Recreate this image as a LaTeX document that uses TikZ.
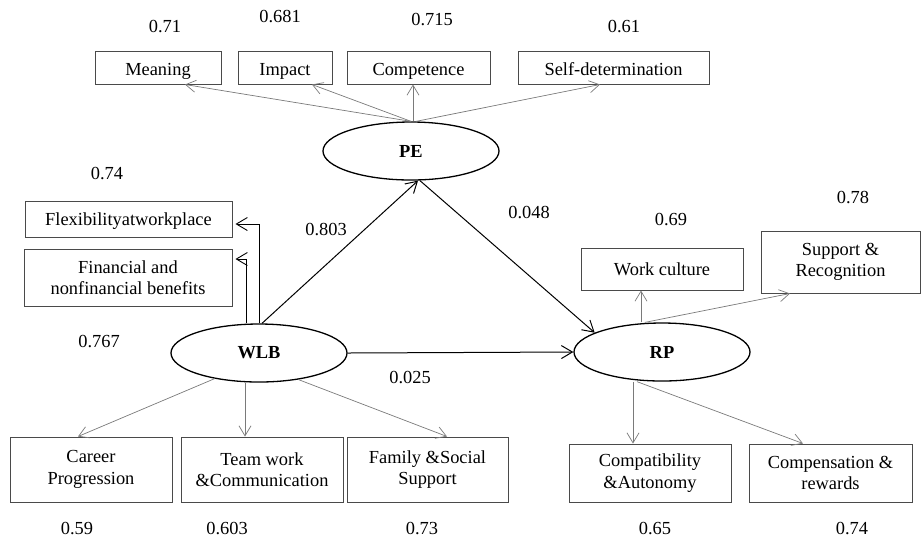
\documentclass[tikz,border=0pt]{standalone}
\usepackage{fontspec}
\setmainfont{Liberation Serif}
\usepackage{xcolor}
\usetikzlibrary{shapes.geometric, arrows.meta, positioning, calc}
\definecolor{boxgray}{HTML}{4A4A4A}
\definecolor{linegray}{HTML}{7A7A7A}
\tikzstyle{effect} = [line width=0.5pt, black, ->, >={Straight Barb[length=5.5pt,width=6.5pt]}]
\tikzstyle{loading} = [line width=0.35pt, linegray, ->, >={Straight Barb[length=5pt,width=6pt]}]

\begin{document}
\begin{tikzpicture}[
    x=0.5pt, y=-0.5pt,
    font=\fontsize{9.2}{10.8}\selectfont,
    indicator/.style={rectangle, draw=boxgray, line width=0.5pt, inner sep=0pt, align=center},
    oneline/.style={text height=8pt, text depth=0.5pt},
    construct/.style={ellipse, draw, line width=0.65pt, inner sep=0pt, minimum width=88pt, minimum height=29pt, font=\fontsize{9.2}{10.8}\selectfont\bfseries},
    value/.style={inner sep=0pt}
]
    \useasboundingbox (0,0) rectangle (921,538);

    \node[construct] (PE) at (411,151) {PE};
    \node[construct] (WLB) at (259,353) {WLB};
    \node[construct] (RP) at (662,352) {RP};

    \node[indicator, oneline, minimum width=63pt, minimum height=16.5pt] (meaning) at (158,67.5) {Meaning};
    \node[indicator, oneline, minimum width=47pt, minimum height=16.5pt] (impact) at (285,67.5) {Impact};
    \node[indicator, oneline, minimum width=71.5pt, minimum height=16.5pt] (competence) at (418.5,67.5) {Competence};
    \node[indicator, oneline, minimum width=95.5pt, minimum height=16.5pt] (selfdet) at (613.5,67.5) {Self-determination};
    \node[indicator, oneline, text height=7pt, minimum width=103.5pt, minimum height=18pt] (flexibility) at (128.5,219) {Flexibilityatworkplace};
    \node[indicator, minimum width=104pt, minimum height=28.5pt] (benefits) at (128,277.5) {Financial and\\nonfinancial benefits};
    \node[indicator, minimum width=81pt, minimum height=21pt] (culture) at (662,269) {Work culture};
    \node[indicator, minimum width=79.5pt, minimum height=31pt] (support) at (840.5,262) {Support \&\\Recognition};
    \node[indicator, minimum width=81pt, minimum height=32.5pt] (career) at (91,469.5) {Career\\Progression};
    \node[indicator, minimum width=81pt, minimum height=32.5pt] (teamwork) at (262,469.5) {Team work\\\&Communication};
    \node[indicator, minimum width=80.5pt, minimum height=32.5pt] (family) at (427.5,469.5) {Family \&Social\\Support};
    \node[indicator, minimum width=81pt, minimum height=29pt] (autonomy) at (650,473) {Compatibility\\\&Autonomy};
    \node[indicator, minimum width=81.5pt, minimum height=29pt] (rewards) at (830.5,473) {Compensation \&\\rewards};

    % loadings
    \node[value] (v71) at (165,27) {0.71};
    \node[value] (v681) at (280,17) {0.681};
    \node[value] (v715) at (432,20) {0.715};
    \node[value] (v61) at (624,27) {0.61};
    \node[value] (v74a) at (107,173) {0.74};
    \node[value] (v767) at (99,341) {0.767};
    \node[value] (v69) at (671,219) {0.69};
    \node[value] (v78) at (853,198) {0.78};
    \node[value] (v59) at (77,528) {0.59};
    \node[value] (v603) at (227,528) {0.603};
    \node[value] (v73) at (422,528) {0.73};
    \node[value] (v65) at (655,528) {0.65};
    \node[value] (v74b) at (852,528) {0.74};

    % path coefficients
    \node[value] (v803) at (326,229) {0.803};
    \node[value] (v048) at (529,213) {0.048};
    \node[value] (v025) at (410,377) {0.025};

    \draw[loading] (PE.north) -- ([xshift=13.5pt]meaning.south);
    \draw[loading] (PE.north) -- ([xshift=13.5pt]impact.south);
    \draw[loading] ([xshift=1pt]PE.north) -- ([xshift=1pt]PE.north |- competence.south);
    \draw[loading] ([xshift=2.5pt]PE.north) -- ([xshift=-6.75pt]selfdet.south);

    \draw[effect, line width=0.45pt, shorten >=1.5pt] (WLB.north) |- ([yshift=-2.5pt]flexibility.east);
    \draw[effect, line width=0.45pt, shorten >=1.5pt] ([xshift=-6.5pt]WLB.north) |- ([yshift=9.25pt]benefits.east);

    \draw[effect] ([xshift=1.5pt]WLB.north) -- ([xshift=3.5pt]PE.south);
    \draw[effect] ([xshift=4.5pt]PE.south) -- (RP.164);
    \draw[effect] (WLB.east) -- (RP.west);

    \draw[loading] ([xshift=-10.5pt]RP.north) -- ([xshift=-10.5pt]RP.north |- culture.south);
    \draw[loading] ([xshift=-8.5pt]RP.north) -- ([xshift=-25.25pt]support.south);
    \draw[loading] (WLB.210) -- ([xshift=-6.5pt]career.north);
    \draw[loading] ([xshift=-7pt]WLB.south) -- ([xshift=-7pt]WLB.south |- teamwork.north);
    \draw[loading] (WLB.326) -- ([xshift=9.75pt]family.north);
    \draw[loading] ([xshift=-14.5pt]RP.south) -- ([xshift=-14.5pt]RP.south |- autonomy.north);
    \draw[loading] ([xshift=-12.5pt]RP.south) -- ([xshift=-13.75pt]rewards.north);
\end{tikzpicture}
\end{document}
